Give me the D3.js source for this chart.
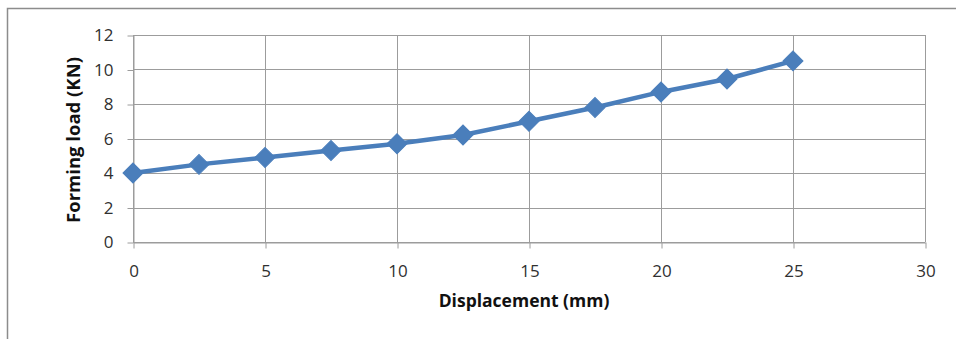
<!DOCTYPE html>
<html>
<head>
<meta charset="utf-8">
<script src="https://cdn.jsdelivr.net/npm/d3@7"></script>
<style>
  html, body { margin: 0; padding: 0; background: #fff; }
  svg { display: block; }
  text { font-family: "Open Sans", "Liberation Sans", sans-serif; }
</style>
</head>
<body>
<svg id="chart" width="956" height="339"></svg>
<script>
// Displacement (mm) vs forming load (KN)
const displacement = [0, 2.5, 5, 7.5, 10, 12.5, 15, 17.5, 20, 22.5, 25];
const formingLoad  = [4.0, 4.5, 4.9, 5.3, 5.7, 6.2, 7.0, 7.8, 8.7, 9.45, 10.5];
const xTicks = [0, 5, 10, 15, 20, 25, 30];
const yTicks = [0, 2, 4, 6, 8, 10, 12];

const svg = d3.select("#chart");

// outer chart frame
svg.append("rect")
  .attr("x", 7.5).attr("y", 8.5)
  .attr("width", 960).attr("height", 340)
  .attr("fill", "none").attr("stroke", "#8c8c8c").attr("stroke-width", 1.5);

const plotLeft = 133, plotRight = 925, plotTop = 35, plotBottom = 242;

const x = d3.scaleLinear().domain([0, 30]).range([plotLeft, plotRight]);
const y = d3.scaleLinear().domain([0, 12]).range([plotBottom, plotTop]);

const gridColor = "#9c9c9c";
const labelColor = "#303030";

// horizontal grid
svg.append("g")
  .selectAll("line").data(yTicks).join("line")
  .attr("x1", plotLeft).attr("x2", plotRight)
  .attr("y1", d => Math.round(y(d)) + 0.5).attr("y2", d => Math.round(y(d)) + 0.5)
  .attr("stroke", gridColor).attr("stroke-width", 1);

// vertical grid
svg.append("g")
  .selectAll("line").data(xTicks).join("line")
  .attr("x1", d => Math.round(x(d)) + 0.5).attr("x2", d => Math.round(x(d)) + 0.5)
  .attr("y1", plotTop).attr("y2", plotBottom)
  .attr("stroke", gridColor).attr("stroke-width", 1);

// x axis
const xAxis = svg.append("g")
  .attr("transform", `translate(0.5,${Math.round(plotBottom) + 0.5})`)
  .call(d3.axisBottom(x).tickValues(xTicks).tickSize(6).tickPadding(16).tickSizeOuter(0));
xAxis.select(".domain").attr("stroke", gridColor);
xAxis.selectAll(".tick line").attr("stroke", gridColor);
xAxis.selectAll("text").attr("font-size", 17).attr("fill", labelColor);

// y axis
const yAxis = svg.append("g")
  .attr("transform", `translate(${plotLeft + 0.5},0.5)`)
  .call(d3.axisLeft(y).tickValues(yTicks).tickSize(6).tickPadding(14).tickSizeOuter(0));
yAxis.select(".domain").attr("stroke", gridColor);
yAxis.selectAll(".tick line").attr("stroke", gridColor);
yAxis.selectAll("text").attr("font-size", 17).attr("fill", labelColor);

// axis titles
svg.append("text")
  .attr("x", 524).attr("y", 307)
  .attr("text-anchor", "middle")
  .attr("font-size", 17.5).attr("font-weight", "bold").attr("fill", "#111")
  .text("Displacement (mm)");

svg.append("text")
  .attr("transform", `translate(72,140) rotate(-90)`)
  .attr("text-anchor", "middle")
  .attr("dominant-baseline", "central")
  .attr("font-size", 18.5).attr("font-weight", "bold").attr("fill", "#111")
  .text("Forming load (KN)");

// series line
const pts = displacement.map((d, i) => [d, formingLoad[i]]);
const blue = "#4a7ebb";

svg.append("path")
  .datum(pts)
  .attr("fill", "none")
  .attr("stroke", blue).attr("stroke-width", 4.5)
  .attr("stroke-linejoin", "round")
  .attr("d", d3.line().x(d => x(d[0])).y(d => y(d[1])));

// diamond markers
const diamond = d3.symbol().type(d3.symbolSquare).size(200);
svg.append("g")
  .selectAll("path").data(pts).join("path")
  .attr("d", diamond)
  .attr("transform", d => `translate(${x(d[0])},${y(d[1])}) rotate(45)`)
  .attr("fill", blue).attr("stroke", blue).attr("stroke-width", 1);
</script>
</body>
</html>
